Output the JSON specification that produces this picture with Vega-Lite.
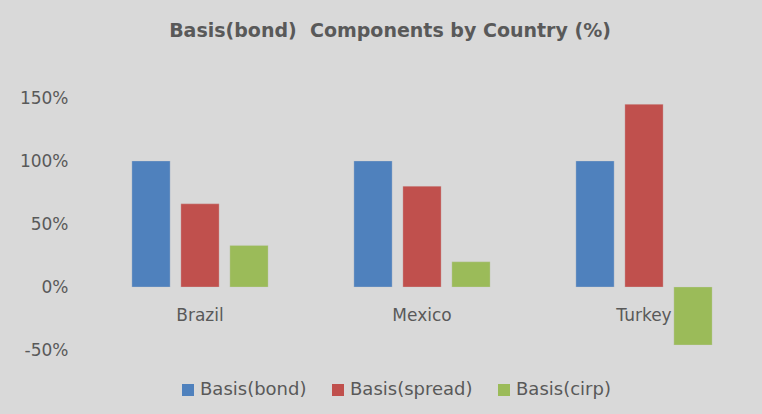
{
  "$schema": "https://vega.github.io/schema/vega-lite/v6.json",
  "autosize": {"type": "none"},
  "width": 666,
  "height": 252,
  "padding": {"left": 89, "top": 98, "right": 7, "bottom": 64},
  "background": "#d9d9d9",
  "title": {
    "text": "Basis(bond)\u00a0 Components by Country (%)",
    "anchor": "middle",
    "dx": -32,
    "offset": 48,
    "font": "DejaVu Sans",
    "fontSize": 19,
    "fontWeight": "bold",
    "color": "#595959"
  },
  "data": {
    "values": [
      {"country": "Brazil", "series": "Basis(bond)", "value": 100},
      {"country": "Brazil", "series": "Basis(spread)", "value": 66},
      {"country": "Brazil", "series": "Basis(cirp)", "value": 33},
      {"country": "Mexico", "series": "Basis(bond)", "value": 100},
      {"country": "Mexico", "series": "Basis(spread)", "value": 80},
      {"country": "Mexico", "series": "Basis(cirp)", "value": 20},
      {"country": "Turkey", "series": "Basis(bond)", "value": 100},
      {"country": "Turkey", "series": "Basis(spread)", "value": 145},
      {"country": "Turkey", "series": "Basis(cirp)", "value": -46}
    ]
  },
  "mark": {"type": "bar", "stroke": "#d0d0d0", "strokeWidth": 0.5, "strokeOpacity": 0.6},
  "encoding": {
    "x": {
      "field": "country",
      "type": "nominal",
      "sort": null,
      "scale": {"paddingInner": 0.338, "paddingOuter": 0.169},
      "axis": {
        "title": null,
        "labelAngle": 0,
        "domain": false,
        "ticks": false,
        "offset": -63,
        "labelPadding": 20,
        "labelFont": "DejaVu Sans",
        "labelFontSize": 17,
        "labelColor": "#595959"
      }
    },
    "xOffset": {
      "field": "series",
      "type": "nominal",
      "sort": ["Basis(bond)", "Basis(spread)", "Basis(cirp)"],
      "scale": {"paddingInner": 0.22, "paddingOuter": 0.11}
    },
    "y": {
      "field": "value",
      "type": "quantitative",
      "scale": {"domain": [-50, 150], "nice": false},
      "axis": {
        "title": null,
        "values": [-50, 0, 50, 100, 150],
        "labelExpr": "datum.value + '%'",
        "grid": false,
        "domain": false,
        "ticks": false,
        "labelPadding": 21,
        "labelFont": "DejaVu Sans",
        "labelFontSize": 17,
        "labelColor": "#595959"
      }
    },
    "color": {
      "field": "series",
      "type": "nominal",
      "sort": ["Basis(bond)", "Basis(spread)", "Basis(cirp)"],
      "scale": {
        "domain": ["Basis(bond)", "Basis(spread)", "Basis(cirp)"],
        "range": ["#4f81bd", "#c0504d", "#9bbb59"]
      },
      "legend": {
        "title": null,
        "orient": "none",
        "direction": "horizontal",
        "legendX": 90,
        "legendY": 283,
        "symbolType": "square",
        "symbolSize": 144,
        "symbolStrokeWidth": 0,
        "labelFont": "DejaVu Sans",
        "labelFontSize": 18,
        "labelColor": "#595959",
        "labelOffset": 3,
        "columnPadding": 22
      }
    }
  },
  "config": {"view": {"stroke": null}}
}
